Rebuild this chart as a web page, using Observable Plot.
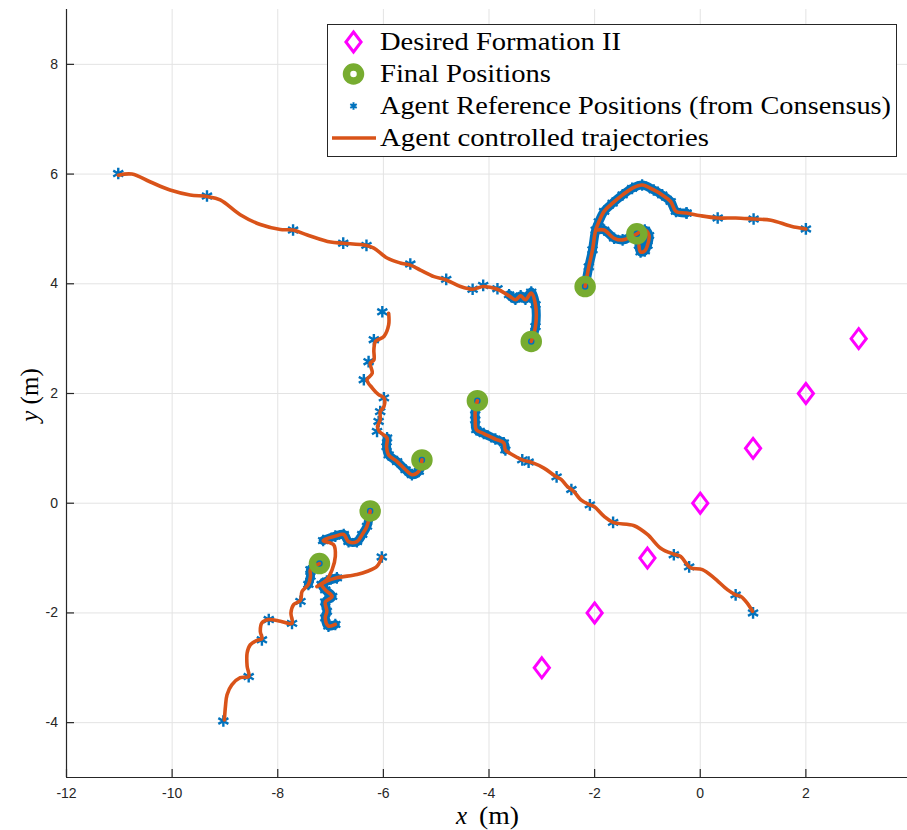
<!DOCTYPE html>
<html>
<head>
<meta charset="utf-8">
<script src="https://cdn.jsdelivr.net/npm/d3@7"></script>
<script src="https://cdn.jsdelivr.net/npm/@observablehq/plot@0.6"></script>
<style>
html, body { margin: 0; padding: 0; background: #fff; overflow: hidden; }
</style>
</head>
<body>
<div id="chart"></div>
<script>
// ---------- data ----------
const xTicks = [-12, -10, -8, -6, -4, -2, 0, 2, 4];
const yTicks = [-4, -2, 0, 2, 4, 6, 8];
const xDomain = [-12, 4];
const yDomain = [-5, 9];

// Desired formation II (diamonds)
const formationX = [-3, -2, -1, 0, 1, 2, 3];
const formationY = [-3, -2, -1, 0, 1, 2, 3];

// Final positions (green rings)
const finalX = [-1.2, -2.18, -3.2, -4.22, -5.27, -6.25, -7.21];
const finalY = [4.91, 3.95, 2.95, 1.87, 0.79, -0.14, -1.1];

// Agent controlled trajectories (orange)
const traj1 = [[-11.02,5.98],[-10.76,6.0],[-10.42,5.86],[-10.04,5.71],[-9.66,5.62],[-9.34,5.59],[-9.09,5.53],[-8.71,5.26],[-8.33,5.08],[-7.95,4.99],[-7.71,4.98],[-7.44,4.89],[-7.0,4.76],[-6.76,4.74],[-6.32,4.7],[-6.18,4.65],[-5.93,4.47],[-5.68,4.38],[-5.49,4.34],[-5.3,4.25],[-5.04,4.13],[-4.81,4.07],[-4.54,3.95],[-4.31,3.9],[-4.11,3.95],[-3.84,3.9],[-3.62,3.78],[-3.5,3.71],[-3.4,3.78],[-3.31,3.71],[-3.2,3.83],[-3.12,3.62],[-3.12,3.22],[-3.2,2.95]];
const traj2 = [[2.0,5.0],[1.72,5.05],[1.34,5.16],[1.01,5.18],[0.67,5.2],[0.33,5.2],[0.01,5.24],[-0.26,5.29],[-0.46,5.32],[-0.56,5.5],[-0.72,5.62],[-0.88,5.71],[-1.1,5.8],[-1.29,5.74],[-1.47,5.62],[-1.66,5.47],[-1.82,5.32],[-1.92,5.13],[-1.98,4.98],[-2.04,4.62],[-2.11,4.31],[-2.18,3.95]];
const traj3 = [[-1.95,4.98],[-1.82,4.98],[-1.63,4.83],[-1.47,4.8],[-1.3,4.86],[-1.2,4.91],[-1.05,4.98],[-0.97,4.88],[-1.0,4.7],[-1.05,4.6],[-1.13,4.58],[-1.16,4.7]];
const traj4 = [[-5.9,3.46],[-5.9,3.25],[-5.99,3.04],[-6.15,2.95],[-6.18,2.8],[-6.18,2.61],[-6.25,2.55],[-6.21,2.37],[-6.31,2.25],[-6.21,2.1],[-6.09,1.98],[-5.99,1.92],[-5.99,1.76],[-6.06,1.67],[-6.06,1.52],[-6.11,1.4],[-6.08,1.31],[-5.93,1.19],[-5.94,1.03],[-5.9,0.88],[-5.74,0.76],[-5.58,0.61],[-5.46,0.52],[-5.33,0.58],[-5.27,0.79]];
const traj5 = [[0.99,-1.97],[0.89,-1.82],[0.77,-1.7],[0.67,-1.67],[0.52,-1.58],[0.26,-1.36],[0.04,-1.21],[-0.18,-1.18],[-0.27,-1.09],[-0.37,-0.97],[-0.5,-0.93],[-0.75,-0.82],[-1.0,-0.57],[-1.25,-0.41],[-1.65,-0.35],[-1.82,-0.24],[-2.01,-0.06],[-2.09,-0.03],[-2.26,0.06],[-2.39,0.21],[-2.52,0.31],[-2.64,0.44],[-2.74,0.49],[-2.96,0.64],[-3.18,0.74],[-3.37,0.79],[-3.59,0.9],[-3.69,0.97],[-3.72,1.1],[-3.88,1.17],[-4.1,1.27],[-4.24,1.34],[-4.26,1.52],[-4.26,1.7],[-4.22,1.87]];
const traj6 = [[-9.01,-3.95],[-8.99,-3.7],[-8.96,-3.49],[-8.87,-3.31],[-8.71,-3.18],[-8.55,-3.16],[-8.58,-2.97],[-8.58,-2.73],[-8.52,-2.58],[-8.39,-2.5],[-8.3,-2.47],[-8.33,-2.34],[-8.3,-2.18],[-8.17,-2.12],[-7.95,-2.15],[-7.73,-2.19],[-7.75,-2.0],[-7.7,-1.85],[-7.57,-1.77],[-7.54,-1.61],[-7.42,-1.48],[-7.38,-1.33],[-7.38,-1.21],[-7.21,-1.1]];
const traj7 = [[-6.03,-0.98],[-6.12,-1.15],[-6.3,-1.24],[-6.5,-1.3],[-6.88,-1.36],[-7.07,-1.42],[-7.17,-1.48],[-7.1,-1.58],[-6.97,-1.7],[-7.1,-1.8],[-7.07,-1.97],[-7.1,-2.09],[-7.04,-2.24],[-6.91,-2.21]];
const traj8 = [[-7.26,-1.52],[-7.07,-1.39],[-6.97,-1.21],[-6.91,-0.97],[-6.94,-0.76],[-7.14,-0.68],[-6.91,-0.6],[-6.75,-0.57],[-6.66,-0.7],[-6.5,-0.7],[-6.4,-0.57],[-6.31,-0.42],[-6.25,-0.14]];

// Agent reference positions (from consensus): sparse samples
const ref1 = [[-11.02,6.01],[-9.34,5.6],[-7.71,4.98],[-6.76,4.74],[-6.32,4.7],[-5.49,4.36],[-4.81,4.08],[-4.31,3.9],[-4.11,3.97],[-3.84,3.91]];
const ref2 = [[2.0,5.0],[1.01,5.18],[0.33,5.2],[-0.26,5.29]];
const ref4 = [[-6.02,3.49],[-6.18,2.98],[-6.28,2.58],[-6.37,2.25],[-5.99,1.92],[-6.06,1.67],[-6.09,1.49],[-6.12,1.31]];
const ref5 = [[1.0,-2.0],[0.67,-1.67],[-0.21,-1.16],[-0.5,-0.94],[-1.65,-0.35],[-2.09,-0.03],[-2.44,0.25],[-2.72,0.48],[-3.25,0.75],[-3.37,0.79]];
const ref6 = [[-9.03,-3.97],[-8.55,-3.16],[-8.3,-2.49],[-8.17,-2.12],[-7.73,-2.19],[-7.57,-1.79]];
const ref7 = [[-6.03,-0.98]];

// Agent reference positions: densely sampled end segments
const dense1 = [[-3.62,3.8],[-3.5,3.72],[-3.4,3.78],[-3.31,3.72],[-3.2,3.85],[-3.12,3.62],[-3.12,3.22],[-3.2,2.95]];
const dense2 = [[-0.26,5.29],[-0.46,5.32],[-0.56,5.5],[-0.72,5.62],[-0.88,5.71],[-1.1,5.8],[-1.29,5.74],[-1.47,5.62],[-1.66,5.47],[-1.82,5.32],[-1.92,5.13],[-1.98,4.98],[-2.04,4.62],[-2.11,4.31],[-2.18,3.95]];
const dense3 = [[-1.95,4.98],[-1.82,4.98],[-1.63,4.83],[-1.47,4.8],[-1.3,4.86],[-1.2,4.91],[-1.05,4.98],[-0.97,4.88],[-1.0,4.7],[-1.05,4.6],[-1.13,4.58],[-1.16,4.7]];
const dense4 = [[-5.93,1.19],[-5.94,1.03],[-5.9,0.88],[-5.74,0.76],[-5.58,0.61],[-5.46,0.52],[-5.33,0.58],[-5.27,0.79]];
const dense5 = [[-3.69,0.97],[-3.72,1.1],[-3.88,1.17],[-4.1,1.27],[-4.24,1.34],[-4.26,1.52],[-4.26,1.7],[-4.22,1.87]];
const dense6 = [[-7.42,-1.48],[-7.38,-1.33],[-7.38,-1.21],[-7.21,-1.1]];
const dense7 = [[-6.88,-1.36],[-7.07,-1.42],[-7.17,-1.48],[-7.1,-1.58],[-6.97,-1.7],[-7.1,-1.8],[-7.07,-1.97],[-7.1,-2.09],[-7.04,-2.24],[-6.91,-2.21]];
const dense8 = [[-7.14,-0.68],[-6.91,-0.6],[-6.75,-0.57],[-6.66,-0.7],[-6.5,-0.7],[-6.4,-0.57],[-6.31,-0.42],[-6.25,-0.14]];

const legendLabels = ["Desired Formation II", "Final Positions", "Agent Reference Positions (from Consensus)", "Agent controlled trajectories"];

// ---------- build tables ----------
const rows = (list) => list.flatMap((pts, id) => pts.map(([x, y]) => ({x, y, id})));
const trajRows = rows([traj1, traj2, traj3, traj4, traj5, traj6, traj7, traj8]);
const denseRows = rows([dense1, dense2, dense3, dense4, dense5, dense6, dense7, dense8]);
const sparseRows = rows([ref1, ref2, ref4, ref5, ref6, ref7]);
const formation = formationX.map((x, i) => ({x, y: formationY[i]}));
const finals = finalX.map((x, i) => ({x, y: finalY[i]}));

const C_BLUE = "#0072BD", C_ORANGE = "#D95319", C_GREEN = "#77AC30", C_MAG = "#FF00FF", C_AX = "#262626";

const diamond = {
  draw(ctx, size) {
    const r = Math.sqrt(size / Math.PI);
    const h = r, w = r * 0.76;
    ctx.moveTo(0, -h); ctx.lineTo(w, 0); ctx.lineTo(0, h); ctx.lineTo(-w, 0); ctx.closePath();
  }
};

const gridX = xTicks.filter(d => d > xDomain[0] && d < xDomain[1]);
const gridY = yTicks;

const plot = Plot.plot({
  width: 907,
  height: 830,
  marginTop: 9,
  marginBottom: 53,
  marginLeft: 66,
  marginRight: -4,
  x: {domain: xDomain},
  y: {domain: yDomain},
  style: {fontFamily: "'Liberation Sans', Arial, Helvetica, sans-serif", fontSize: "14px", color: C_AX, background: "white"},
  marks: [
    Plot.ruleX(gridX, {stroke: "#e3e3e3", strokeWidth: 1}),
    Plot.ruleY(gridY, {stroke: "#e3e3e3", strokeWidth: 1}),
    Plot.axisX({ticks: xTicks, tickSize: 0, tickPadding: 11, tickFormat: d => String(d), label: null}),
    Plot.axisY({ticks: yTicks, tickSize: 0, tickPadding: 8.5, tickFormat: d => String(d), label: null}),
    Plot.ruleY([yDomain[0]], {stroke: C_AX, strokeWidth: 1.2}),
    Plot.ruleX([xDomain[0]], {stroke: C_AX, strokeWidth: 1.2}),
    Plot.ruleX(xTicks, {x: d => d, y1: yDomain[0], y2: yDomain[0] + 0.146, stroke: C_AX, strokeWidth: 1.2}),
    Plot.ruleY(yTicks, {y: d => d, x1: xDomain[0], x2: xDomain[0] + 0.152, stroke: C_AX, strokeWidth: 1.2}),
    // reference positions
    Plot.line(denseRows, {x: "x", y: "y", z: "id", stroke: C_BLUE, strokeWidth: 9, curve: "catmull-rom", strokeLinecap: "round", strokeLinejoin: "round"}),
    Plot.dot(denseRows, {x: "x", y: "y", symbol: "asterisk", r: 5.5, stroke: C_BLUE, strokeWidth: 2.2}),
    Plot.dot(sparseRows, {x: "x", y: "y", symbol: "asterisk", r: 5.5, stroke: C_BLUE, strokeWidth: 2.4}),
    // controlled trajectories
    Plot.line(trajRows, {x: "x", y: "y", z: "id", stroke: C_ORANGE, strokeWidth: 3.6, curve: "catmull-rom", strokeLinecap: "round", strokeLinejoin: "round"}),
    // final positions
    Plot.dot(finals, {x: "x", y: "y", r: 7, stroke: C_GREEN, strokeWidth: 7.5, fill: "none"}),
    // desired formation
    Plot.dot(formation, {x: "x", y: "y", symbol: diamond, r: 10, stroke: C_MAG, strokeWidth: 3, fill: "none"})
  ]
});

document.getElementById("chart").appendChild(plot);

// ---------- axis labels and legend ----------
const svg = d3.select(plot);
const serif = "'Liberation Serif', 'Times New Roman', 'DejaVu Serif', serif";

const xl = svg.append("g").attr("font-family", serif).attr("font-size", 25).attr("fill", "#000").attr("text-anchor", "start");
xl.append("text").attr("x", 456).attr("y", 824).attr("font-style", "italic").text("x");
xl.append("text").attr("x", 479).attr("y", 824).attr("textLength", 40).attr("lengthAdjust", "spacingAndGlyphs").text("(m)");

const yl = svg.append("text")
  .attr("transform", "translate(38,395) rotate(-90)")
  .attr("text-anchor", "middle")
  .attr("font-family", serif).attr("font-size", 25).attr("fill", "#000");
yl.append("tspan").attr("font-style", "italic").text("y");
yl.append("tspan").text(" (m)");

const lg = svg.append("g").attr("text-anchor", "start");
lg.append("rect").attr("x", 327.5).attr("y", 24.5).attr("width", 569).attr("height", 132)
  .attr("fill", "white").attr("stroke", C_AX).attr("stroke-width", 1);
const symX = 353.5, rowY = [42, 74, 106, 138], baseY = [49.5, 81.5, 113.5, 145.5];
const widths = [241, 171, 511, 329];
// diamond
lg.append("path").attr("d", `M${symX},${rowY[0]-10}L${symX+7.6},${rowY[0]}L${symX},${rowY[0]+10}L${symX-7.6},${rowY[0]}Z`)
  .attr("fill", "none").attr("stroke", C_MAG).attr("stroke-width", 3);
// ring
lg.append("circle").attr("cx", symX).attr("cy", rowY[1]).attr("r", 7).attr("fill", "none")
  .attr("stroke", C_GREEN).attr("stroke-width", 7.5);
// asterisk
lg.append("path").attr("transform", `translate(${symX},${rowY[2]})`)
  .attr("d", d3.symbol(d3.symbolAsterisk, Math.PI * 3.5 * 3.5)())
  .attr("fill", "none").attr("stroke", C_BLUE).attr("stroke-width", 2);
// line
lg.append("line").attr("x1", 332).attr("x2", 376).attr("y1", rowY[3]).attr("y2", rowY[3])
  .attr("stroke", C_ORANGE).attr("stroke-width", 3.6);
legendLabels.forEach((t, i) => {
  lg.append("text").attr("x", 380).attr("y", baseY[i]).attr("text-anchor", "start")
    .attr("font-family", serif).attr("font-size", 26).attr("fill", "#000")
    .attr("textLength", widths[i]).attr("lengthAdjust", "spacingAndGlyphs")
    .text(t);
});
</script>
</body>
</html>
